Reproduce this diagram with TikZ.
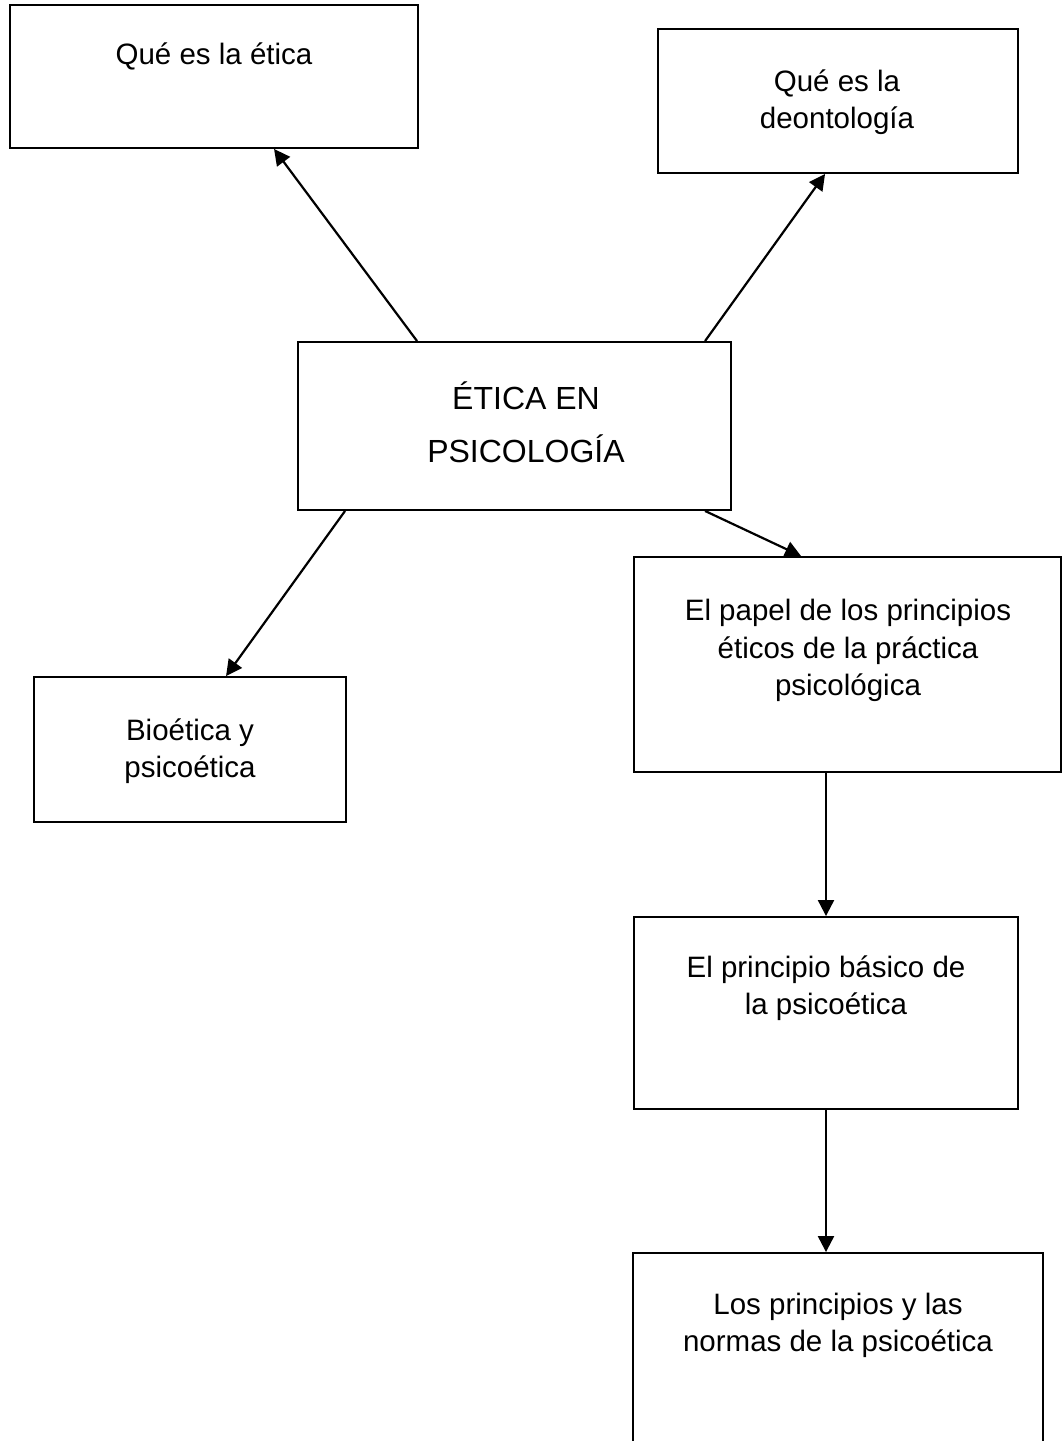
\documentclass[tikz,border=0pt]{standalone}
\usepackage{fontspec}
\setmainfont{Liberation Sans}
\usetikzlibrary{arrows.meta}
\tikzset{
  boxnode/.style={draw, line width=1.9pt, inner sep=0pt, fill=white},
  txt/.style={align=center, inner sep=0pt, font=\fontsize{29.5}{37.5}\selectfont},
  bigtxt/.style={align=center, inner sep=0pt, font=\fontsize{32}{53}\selectfont},
  conn/.style={line width=2.2pt, -{Triangle[length=16pt,width=16pt]}}
}
\begin{document}
\begin{tikzpicture}[x=1pt,y=-1pt]
\useasboundingbox (0,0) rectangle (1062,1441);
% boxes
\node[boxnode, minimum width=408pt, minimum height=143pt] (b1) at (214,76.5) {};
\node[boxnode, minimum width=360pt, minimum height=144pt] (b2) at (838,101) {};
\node[boxnode, minimum width=433pt, minimum height=168pt] (b3) at (514.5,426) {};
\node[boxnode, minimum width=312pt, minimum height=145pt] (b4) at (190,749.5) {};
\node[boxnode, minimum width=427pt, minimum height=215pt] (b5) at (847.5,664.5) {};
\node[boxnode, minimum width=384pt, minimum height=192pt] (b6) at (826,1013) {};
\node[boxnode, minimum width=410pt, minimum height=217pt] (b7) at (838,1361.5) {};
% texts
\node[txt] (t1) at (214,56) {Qué es la ética};
\node[txt] (t2) at (837,102) {Qué es la\\deontología};
\node[bigtxt] (t3) at (526,422) {ÉTICA EN\\PSICOLOGÍA};
\node[txt] (t4) at (190,751) {Bioética y\\psicoética};
\node[txt] (t5) at (848,650.5) {El papel de los principios\\éticos de la práctica\\psicológica};
\node[txt] (t6) at (826,988) {El principio básico de\\la psicoética};
\node[txt] (t7) at (838,1325.5) {Los principios y las\\normas de la psicoética};
% connectors
\draw[conn] ([xshift=120pt]b3.north west) -- ([xshift=265pt]b1.south west);
\draw[conn] ([xshift=408pt]b3.north west) -- ([xshift=168pt]b2.south west);
\draw[conn] ([xshift=48pt]b3.south west) -- ([xshift=193pt]b4.north west);
\draw[conn] ([xshift=408pt]b3.south west) -- ([xshift=168pt]b5.north west);
\draw[conn] (b6.north |- b5.south) -- (b6.north);
\draw[conn] (b6.south) -- (b6.south |- b7.north);
\end{tikzpicture}
\end{document}
